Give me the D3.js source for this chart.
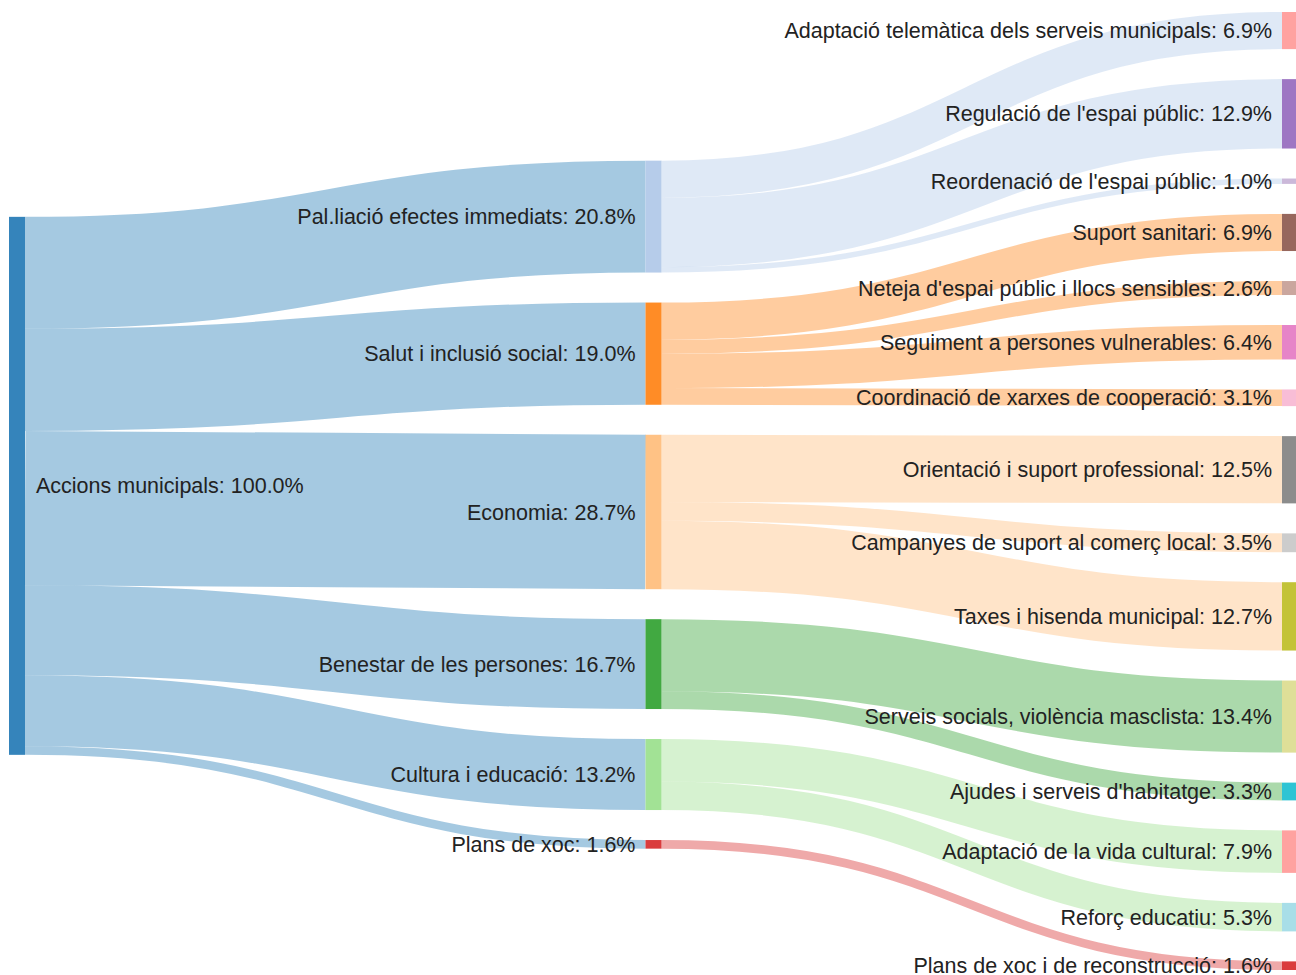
<!DOCTYPE html>
<html>
<head>
<meta charset="utf-8">
<script src="https://cdn.jsdelivr.net/npm/d3@7"></script>
<style>
  body { margin: 0; background: #fff; }
  svg { display: block; }
  .node text { font-family: "Liberation Sans", Arial, sans-serif; font-size: 21.5px; fill: #222; }
</style>
</head>
<body>
<div id="app"></div>
<script>
`use strict`;

// root -> groups
const root = `Accions municipals`;
const groups = [`Pal.liació efectes immediats`, `Salut i inclusió social`, `Economia`, `Benestar de les persones`, `Cultura i educació`, `Plans de xoc`];
const groupValues = [20.8, 19.0, 28.7, 16.7, 13.2, 1.6];

// groups -> actions
const actions = [
  `Adaptació telemàtica dels serveis municipals`, `Regulació de l'espai públic`, `Reordenació de l'espai públic`,
  `Suport sanitari`, `Neteja d'espai públic i llocs sensibles`, `Seguiment a persones vulnerables`, `Coordinació de xarxes de cooperació`,
  `Orientació i suport professional`, `Campanyes de suport al comerç local`, `Taxes i hisenda municipal`,
  `Serveis socials, violència masclista`, `Ajudes i serveis d'habitatge`,
  `Adaptació de la vida cultural`, `Reforç educatiu`,
  `Plans de xoc i de reconstrucció`
];
const actionGroup = [0, 0, 0, 1, 1, 1, 1, 2, 2, 2, 3, 3, 4, 4, 5];
const actionValues = [6.9, 12.9, 1.0, 6.9, 2.6, 6.4, 3.1, 12.5, 3.5, 12.7, 13.4, 3.3, 7.9, 5.3, 1.6];

const palette = [`#1f77b4`, `#aec7e8`, `#ff7f0e`, `#ffbb78`, `#2ca02c`, `#98df8a`, `#d62728`, `#ff9896`, `#9467bd`, `#c5b0d5`,
  `#8c564b`, `#c49c94`, `#e377c2`, `#f7b6d2`, `#7f7f7f`, `#c7c7c7`, `#bcbd22`, `#dbdb8d`, `#17becf`, `#9edae5`];

const W = 1296, H = 975;

/** sankey layout: columns packed in input order, the fullest column fills the height,
    the others are slid so their links run as level as possible (value weighted) **/

function sankey (nodes, links, X0, Y0, X1, Y1, dx, dy) {

  nodes.forEach((n, i) => { n.index = i; n.sourceLinks = []; n.targetLinks = []; });
  links.forEach((l, i) => {
    l.index = i;
    l.source = nodes[l.source]; l.target = nodes[l.target];
    l.source.sourceLinks.push(l); l.target.targetLinks.push(l);
  });
  nodes.forEach(n => n.value = Math.max(d3.sum(n.sourceLinks, l => l.value), d3.sum(n.targetLinks, l => l.value)));

  let current = new Set(nodes), next = new Set(), depth = 0;
  while (current.size) {
    for (const n of current) { n.depth = depth; for (const l of n.sourceLinks) next.add(l.target); }
    depth++; current = next; next = new Set();
  }
  const kx = (X1 - X0 - dx) / (depth - 1);
  nodes.forEach(n => { n.layer = n.sourceLinks.length ? n.depth : depth - 1; n.x0 = X0 + n.layer * kx; n.x1 = n.x0 + dx; });
  const columns = d3.groups(nodes, n => n.layer).sort((a, b) => a[0] - b[0]).map(g => g[1]);

  const py = Math.min(dy, (Y1 - Y0) / (d3.max(columns, c => c.length) - 1));
  const kys = columns.map(c => (Y1 - Y0 - (c.length - 1) * py) / d3.sum(c, n => n.value));
  const ky = d3.min(kys);
  const anchor = kys.indexOf(ky);

  links.forEach(l => l.width = l.value * ky);
  columns.forEach(c => {
    let y = 0;
    c.forEach(n => { n.off = y; n.h = n.value * ky; y += n.h + py; });
    c.span = y - py;
  });
  // link offsets inside their nodes
  nodes.forEach(n => {
    let a = 0, b = 0;
    n.sourceLinks.forEach(l => { l.s = a; a += l.width; });
    n.targetLinks.forEach(l => { l.t = b; b += l.width; });
  });

  const place = (c, top) => {
    top = Math.max(Y0, Math.min(Y1 - c.span, top));
    c.forEach(n => { n.y0 = top + n.off; n.y1 = n.y0 + n.h; });
  };

  place(columns[anchor], Y0);
  for (let i = anchor - 1; i >= 0; --i) {
    let y = 0, w = 0;
    columns[i].forEach(n => n.sourceLinks.forEach(l => { y += (l.target.y0 + l.t - n.off - l.s) * l.value; w += l.value; }));
    place(columns[i], y / w);
  }
  for (let i = anchor + 1; i < columns.length; ++i) {
    let y = 0, w = 0;
    columns[i].forEach(n => n.targetLinks.forEach(l => { y += (l.source.y0 + l.s - n.off - l.t) * l.value; w += l.value; }));
    place(columns[i], y / w);
  }

  links.forEach(l => { l.y0 = l.source.y0 + l.s + l.width / 2; l.y1 = l.target.y0 + l.t + l.width / 2; });
}

/** data to graph **/

const Nodes = [root].concat(groups, actions).map(name => ({name}));
const Links = [];
groups.forEach((g, i) => Links.push({source: 0, target: 1 + i, value: groupValues[i]}));
actions.forEach((a, i) => Links.push({source: 1 + actionGroup[i], target: 1 + groups.length + i, value: actionValues[i]}));

sankey(Nodes, Links, 9, 12, 1298, 970, 16, 30);

const total = Nodes[0].value;
const pct = d3.format(`.1f`);
const color = d3.scaleOrdinal(palette);
Nodes.forEach(n => n.color = color(n.name.replace(/ .*/, ``)));

const SVG = d3.select(`#app`).append(`svg`).attr(`width`, W).attr(`height`, H);

SVG.append(`g`).attr(`fill`, `none`).attr(`stroke-opacity`, 0.4)
  .selectAll(`path`).data(Links).enter().append(`path`)
  .attr(`d`, d3.linkHorizontal().source(d => [d.source.x1, d.y0]).target(d => [d.target.x0, d.y1]))
  .attr(`stroke`, d => d.source.color)
  .attr(`stroke-width`, d => Math.max(1, d.width));

const Node = SVG.append(`g`).selectAll(`g`).data(Nodes).enter().append(`g`).attr(`class`, `node`);

Node.append(`rect`)
  .attr(`x`, d => d.x0).attr(`y`, d => d.y0)
  .attr(`width`, d => d.x1 - d.x0).attr(`height`, d => Math.max(1, d.y1 - d.y0))
  .attr(`fill`, d => d.color).attr(`fill-opacity`, 0.9);

Node.append(`text`)
  .attr(`x`, d => d.x0 < W / 2 - 100 ? d.x1 + 11 : d.x0 - 10)
  .attr(`y`, d => (d.y0 + d.y1) / 2)
  .attr(`dy`, `0.35em`)
  .attr(`text-anchor`, d => d.x0 < W / 2 - 100 ? `start` : `end`)
  .text(d => d.name + `: ` + pct(d.value / total * 100) + `%`);
</script>
</body>
</html>
